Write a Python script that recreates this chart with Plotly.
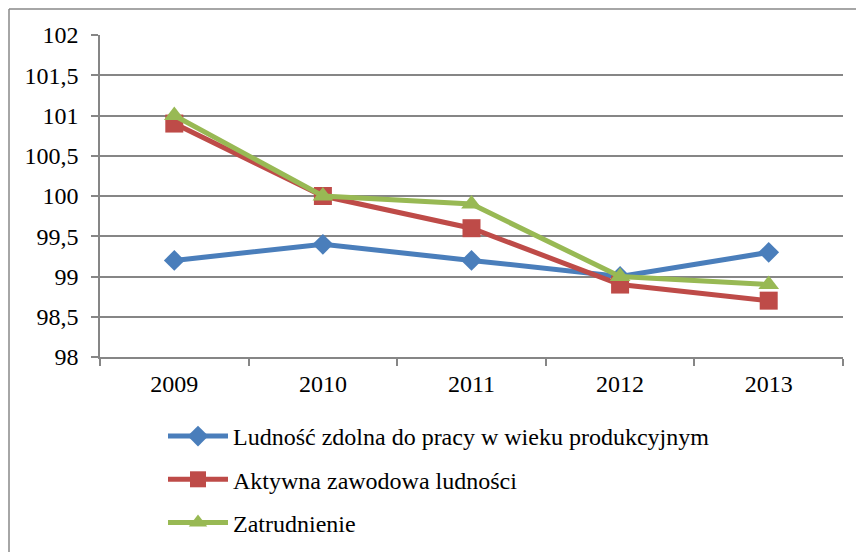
import plotly.graph_objects as go

years = ["2009", "2010", "2011", "2012", "2013"]
ludnosc = [99.2, 99.4, 99.2, 99.0, 99.3]
aktywna = [100.9, 100.0, 99.6, 98.9, 98.7]
zatrudnienie = [101.0, 100.0, 99.9, 99.0, 98.9]
series_names = ["Ludność zdolna do pracy w wieku produkcyjnym",
                "Aktywna zawodowa ludności",
                "Zatrudnienie"]
y_ticks = [98, 98.5, 99, 99.5, 100, 100.5, 101, 101.5, 102]
y_ticklabels = ["98", "98,5", "99", "99,5", "100", "100,5", "101", "101,5", "102"]

# page body has an 8px margin: figure pixel p appears at screen p + 8
OFF = 8
W, H = 864, 552
L, T = 100 - OFF, 35 - OFF
pw, ph = 743, 322
R = W - L - pw
B = H - T - ph

font = "Liberation Serif, Times New Roman, serif"
FS = 24

fig = go.Figure()
specs = [
    (ludnosc, "#4A7EBB", "diamond", 16),
    (aktywna, "#BE4B48", "square", 18),
    (zatrudnienie, "#98B954", "triangle-up", 18),
]
for i, (vals, col, sym, sz) in enumerate(specs):
    fig.add_trace(go.Scatter(
        x=years, y=vals, name=series_names[i], mode="lines+markers",
        line=dict(color=col, width=5),
        marker=dict(symbol=sym, size=sz, color=col),
        legendgroup=str(i),
    ))

def px_x(p):  # screen px -> paper
    return (p - OFF - L) / pw

def px_y(p):
    return (T + ph - (p - OFF)) / ph

fig.update_layout(
    width=W, height=H,
    margin=dict(l=L, r=R, t=T, b=B, autoexpand=False),
    paper_bgcolor="white", plot_bgcolor="white",
    font=dict(family=font, size=FS, color="black"),
    showlegend=True,
    legend=dict(x=px_x(163), y=px_y(414), xanchor="left", yanchor="top",
                orientation="v", tracegroupgap=9, itemwidth=60,
                font=dict(family=font, size=FS, color="black"),
                bgcolor="rgba(0,0,0,0)"),
    xaxis=dict(type="category", showgrid=False, showline=True, linecolor="#868686",
               linewidth=1.5, ticks="outside", tickson="boundaries", ticklen=7,
               tickcolor="#868686", tickwidth=1.5, range=[-0.5, 4.5],
               automargin=False, ticklabelstandoff=4,
               tickfont=dict(family=font, size=FS, color="black")),
    yaxis=dict(range=[98, 102], tickvals=y_ticks, ticktext=y_ticklabels,
               showgrid=True, gridcolor="#868686", gridwidth=1.5,
               showline=True, linecolor="#868686", linewidth=1.5,
               ticks="outside", ticklen=7, tickcolor="#868686", tickwidth=1.5,
               zeroline=False, ticklabelstandoff=8, automargin=False,
               tickfont=dict(family=font, size=FS, color="black")),
    shapes=[
        dict(type="line", xref="paper", yref="paper",
             x0=px_x(9), x1=px_x(9), y0=px_y(9), y1=px_y(570),
             line=dict(color="#888888", width=1.5)),
        dict(type="line", xref="paper", yref="paper",
             x0=px_x(9), x1=px_x(880), y0=px_y(9), y1=px_y(9),
             line=dict(color="#888888", width=1.5)),
    ],
)

fig.write_html("out.html")
